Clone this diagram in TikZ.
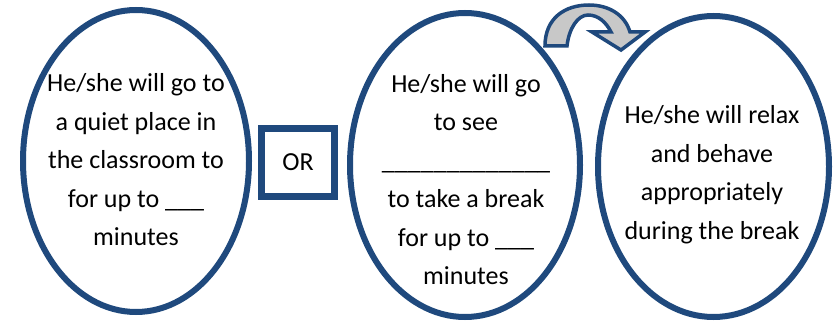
\documentclass[tikz,border=0pt]{standalone}
\usepackage{fontspec}
\setmainfont{Carlito}
\usetikzlibrary{positioning}
\definecolor{ring}{HTML}{1F497D}
\definecolor{shade}{HTML}{C8C8C8}
\tikzset{
  bubbletext/.style={align=center,font=\fontsize{26}{38.5}\selectfont,inner sep=0pt},
  orbox/.style={draw=ring,line width=7pt,minimum width=73pt,minimum height=68pt,font=\fontsize{26}{30}\selectfont}
}

\begin{document}
\begin{tikzpicture}[x=1pt,y=-1pt]
  \useasboundingbox (0,0) rectangle (833,323);
  % the three steps
  \foreach \x/\y/\rx/\ry in {136/161/113/151, 465/165/115/152, 713.5/166.5/115.5/150.5} {
    \draw[ring,line width=6pt] (\x,\y) ellipse [x radius=\rx, y radius=\ry];
  }
  \node[bubbletext] (quiet) at (136,160) {He/she will go to\\a quiet place in\\the classroom to\\for up to \_\_\_\\minutes};
  \node[bubbletext] (see) at (466,179.5) {He/she will go\\to see\\\_\_\_\_\_\_\_\_\_\_\_\_\_\\to take a break\\for up to \_\_\_\\minutes};
  \node[bubbletext] (relax) at (712,174.5) {He/she will relax\\and behave\\appropriately\\during the break};
  \node[orbox] (or) at (298,162.5) {OR};
  % curved arrow between step two and three
  \filldraw[fill=shade,draw=ring,line width=3.5pt,line join=miter]
    (545,46) .. controls (545,18) and (565,5) .. (589,5)
    .. controls (609,5) and (625,15) .. (630,32) -- (645,32) -- (621,50) -- (592,32) -- (611,32)
    .. controls (606,22) and (598,15) .. (588,15)
    .. controls (578,15) and (569,28) .. (567,46) -- cycle;
\end{tikzpicture}
\end{document}
